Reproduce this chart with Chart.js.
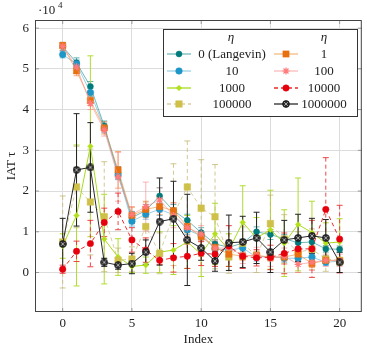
<!DOCTYPE html>
<html><head><meta charset="utf-8">
<script src="https://cdn.jsdelivr.net/npm/chart.js@4/dist/chart.umd.min.js"></script>
<style>html,body{margin:0;padding:0;background:#fff}#wrap{width:367px;height:350px}</style>
</head><body><div id="wrap"><canvas id="c" width="367" height="350"></canvas></div>
<script>
const indexValues = [0,1,2,3,4,5,6,7,8,9,10,11,12,13,14,15,16,17,18,19,20];
const xTicks = [0,5,10,15,20];
const yTicks = [0,1,2,3,4,5,6];
const seriesNames = ['0 (Langevin)','10','1000','100000','1','100','10000','1000000'];

const eta0   = [5.55,5.15,4.57,3.6,2.45,1.35,1.52,1.88,1.52,1.28,0.98,0.7,0.62,0.72,1.0,0.93,0.83,0.73,0.75,0.58,0.57];
const eta10  = [5.35,5.12,4.42,3.55,2.4,1.26,1.43,1.55,1.42,1.05,0.9,0.58,0.55,0.6,0.38,0.4,0.35,0.35,0.38,0.25,0.28];
const eta1000 = [0.65,1.4,3.1,0.82,0.38,0.15,0.18,0.5,0.55,0.75,0.45,0.95,0.55,1.23,0.85,1.05,0.72,1.18,0.98,0.72,0.75];
const eta1e5 = [0.75,2.1,1.73,1.37,0.3,0.33,1.13,0.47,1.42,2.1,1.58,1.37,0.38,0.72,0.4,1.2,0.82,0.5,0.57,0.33,0.3];
const eta1   = [5.57,4.95,4.22,3.55,2.52,1.4,1.55,1.62,1.52,1.13,0.88,0.62,0.45,0.4,0.42,0.38,0.38,0.45,0.22,0.3,0.28];
const eta100 = [5.55,5.05,4.15,3.5,2.35,1.42,1.62,1.78,1.4,1.1,0.95,0.6,0.6,0.42,0.42,0.35,0.4,0.2,0.25,0.3,0.3];
const eta1e4 = [0.08,0.52,0.71,1.23,1.5,0.8,0.55,0.3,0.36,0.4,0.47,0.45,0.65,0.4,0.36,0.37,0.47,0.58,0.58,1.55,0.82];
const eta1e6 = [0.7,2.52,2.58,0.25,0.18,0.22,0.5,1.25,1.32,0.8,0.6,0.28,0.73,0.75,0.85,0.5,0.8,0.85,0.9,0.85,0.25];

const err0   = [0.1,0.12,0.12,0.12,0.15,0.15,0.15,0.2,0.15,0.15,0.12,0.1,0.1,0.1,0.12,0.12,0.1,0.1,0.1,0.08,0.08];
const err10  = [0.08,0.1,0.1,0.12,0.12,0.12,0.12,0.15,0.12,0.12,0.1,0.1,0.1,0.1,0.1,0.1,0.1,0.1,0.1,0.08,0.08];
const err1000 = [0.3,1.73,2.22,1.1,0.45,0.15,0.2,0.5,0.6,0.65,0.55,0.75,0.4,0.9,0.5,0.97,0.82,1.14,0.77,0.5,0.57];
const err1e5 = [1.13,1.0,1.3,1.35,0.3,0.3,0.6,0.5,1.25,1.13,1.19,1.28,0.4,0.4,0.4,0.7,0.6,0.5,0.5,0.3,0.3];
const err1   = [0.08,0.12,0.12,0.15,0.45,0.2,0.2,0.2,0.2,0.15,0.12,0.1,0.1,0.1,0.1,0.1,0.1,0.1,0.1,0.08,0.08];
const err100 = [0.1,0.15,0.15,0.15,0.6,0.2,0.6,0.3,0.3,0.2,0.2,0.2,0.2,0.2,0.2,0.2,0.2,0.2,0.2,0.15,0.15];
const err1e4 = [0.1,0.25,0.57,0.35,0.45,0.3,0.3,0.1,0.35,0.3,0.3,0.3,0.5,0.3,0.2,0.3,0.5,0.3,0.7,1.27,0.83];
const err1e6 = [0.63,1.38,1.1,0.1,0.1,0.25,0.3,1.07,0.92,1.12,0.3,0.25,0.68,0.63,0.63,0.5,0.48,0.58,0.43,0.45,0.25];

const FONT = '"Liberation Serif", "DejaVu Serif", serif';

function otimes(){
  const c=document.createElement('canvas'); c.width=8; c.height=8;
  const g=c.getContext('2d');
  g.beginPath(); g.arc(4,4,3.4,0,Math.PI*2); g.fillStyle='#2e2e2e'; g.fill();
  g.strokeStyle='#111'; g.lineWidth=0.8; g.stroke();
  g.strokeStyle='#c8c8c8'; g.lineWidth=0.8;
  g.beginPath(); g.moveTo(2.2,2.2); g.lineTo(5.8,5.8); g.moveTo(5.8,2.2); g.lineTo(2.2,5.8); g.stroke();
  return c;
}
const oMark = otimes();

function pts(arr){ return arr.map((v,i)=>({x:indexValues[i], y:v})); }

const specs = [
  {name:seriesNames[0], data:eta0,   err:err0,   line:'rgba(0,128,128,0.55)', mark:'#007a7a', style:'circle', r:3, dash:[], errc:'rgba(0,128,128,0.6)'},
  {name:seriesNames[1], data:eta10,  err:err10,  line:'rgba(30,150,200,0.45)', mark:'#1e96c8', style:'circle', r:3.3, dash:[], errc:'rgba(30,150,200,0.55)'},
  {name:seriesNames[2], data:eta1000,err:err1000,line:'#a8dc1c', mark:'#b2e01a', style:'rectRot', r:2.8, dash:[], errc:'#b0dc30'},
  {name:seriesNames[3], data:eta1e5, err:err1e5, line:'rgba(200,185,120,0.7)', mark:'#cfc04a', style:'rect', r:4.6, dash:[4,3], errc:'rgba(195,180,110,0.75)'},
  {name:seriesNames[4], data:eta1,   err:err1,   line:'rgba(240,140,50,0.6)', mark:'#e8700f', style:'rect', r:4.4, dash:[], errc:'rgba(240,120,30,0.6)'},
  {name:seriesNames[5], data:eta100, err:err100, line:'rgba(250,140,140,0.6)', mark:'#ff7a7a', style:'star', r:3.5, dash:[], errc:'rgba(250,120,120,0.55)'},
  {name:seriesNames[6], data:eta1e4, err:err1e4, line:'#ee2a2a', mark:'#e6000e', style:'circle', r:3.2, dash:[4,3], errc:'rgba(235,40,40,0.85)'},
  {name:seriesNames[7], data:eta1e6, err:err1e6, line:'#2a2a2a', mark:'#333', style:oMark, r:4, dash:[], errc:'#222'}
];

const datasets = specs.map((s,i)=>({
  label:s.name, data:pts(s.data), err:s.err, errc:s.errc,
  borderColor:s.line, backgroundColor:s.mark, pointBackgroundColor:s.mark,
  pointBorderColor:s.mark,
  pointBorderWidth: s.style==='star'?1.2:0.5,
  pointStyle:s.style, pointRadius:s.r, borderWidth:1, borderDash:s.dash,
  tension:0, order: 7-i
}));

const errPlugin = {
  id:'errbars',
  beforeDatasetsDraw(chart){
    const ctx=chart.ctx, xs=chart.scales.x, ys=chart.scales.y;
    ctx.save();
    chart.data.datasets.forEach((ds)=>{
      ctx.strokeStyle=ds.errc; ctx.lineWidth=1;
      ds.data.forEach((p,i)=>{
        const e=ds.err[i]; const px=xs.getPixelForValue(p.x);
        const y1=ys.getPixelForValue(p.y+e), y2=ys.getPixelForValue(p.y-e);
        ctx.setLineDash(ds.borderDash||[]);
        ctx.beginPath(); ctx.moveTo(px,y1); ctx.lineTo(px,y2); ctx.stroke();
        ctx.setLineDash([]);
        ctx.beginPath(); ctx.moveTo(px-3,y1); ctx.lineTo(px+3,y1); ctx.moveTo(px-3,y2); ctx.lineTo(px+3,y2); ctx.stroke();
      });
    });
    ctx.restore();
  }
};

const framePlugin = {
  id:'frame',
  afterDatasetsDraw(chart){
    const ctx=chart.ctx, a=chart.chartArea, xs=chart.scales.x, ys=chart.scales.y;
    ctx.save();
    ctx.strokeStyle='#888'; ctx.lineWidth=0.8;
    xTicks.forEach(v=>{const p=xs.getPixelForValue(v); ctx.beginPath(); ctx.moveTo(p,a.bottom); ctx.lineTo(p,a.bottom-4); ctx.moveTo(p,a.top); ctx.lineTo(p,a.top+4); ctx.stroke();});
    yTicks.forEach(v=>{const p=ys.getPixelForValue(v); ctx.beginPath(); ctx.moveTo(a.left,p); ctx.lineTo(a.left+4,p); ctx.moveTo(a.right,p); ctx.lineTo(a.right-4,p); ctx.stroke();});
    ctx.strokeStyle='#444'; ctx.lineWidth=1;
    ctx.strokeRect(a.left+0.5,a.top+0.5,a.right-a.left-1,a.bottom-a.top-1);
    ctx.fillStyle='#222';
    ctx.font='13px '+FONT; ctx.textAlign='center'; ctx.textBaseline='middle';
    ctx.fillText('Index',(a.left+a.right)/2,340);
    ctx.save(); ctx.translate(12,(a.top+a.bottom)/2); ctx.rotate(-Math.PI/2);
    ctx.fillText('IAT τ',0,0); ctx.restore();
    ctx.textAlign='left';
    ctx.fillText('·10',38,11);
    ctx.font='9px '+FONT; ctx.fillText('4',58,6);
    // legend
    const L={x:163,y:29,w:194,h:87};
    ctx.fillStyle='#fff'; ctx.fillRect(L.x,L.y,L.w,L.h);
    ctx.strokeStyle='#333'; ctx.lineWidth=1; ctx.strokeRect(L.x+0.5,L.y+0.5,L.w,L.h);
    ctx.fillStyle='#222'; ctx.font='italic 13px '+FONT; ctx.textAlign='center';
    ctx.fillText('η',231,38); ctx.fillText('η',324,38);
    ctx.font='13px '+FONT;
    const rows=[54,71,88,104];
    const cols=[{l:167,r:191,t:232},{l:274,r:298,t:324}];
    const order=[[0,4],[1,5],[2,6],[3,7]];
    order.forEach((pair,ri)=>{
      pair.forEach((di,ci)=>{
        const ds=chart.data.datasets[di];
        const c=cols[ci], y=rows[ri];
        ctx.strokeStyle=ds.borderColor; ctx.lineWidth=1.3; ctx.setLineDash(ds.borderDash||[]);
        ctx.beginPath(); ctx.moveTo(c.l,y); ctx.lineTo(c.r,y); ctx.stroke(); ctx.setLineDash([]);
        ctx.fillStyle=ds.pointBackgroundColor; ctx.strokeStyle=ds.pointBorderColor; ctx.lineWidth=ds.pointBorderWidth;
        Chart.helpers.drawPoint(ctx,{pointStyle:ds.pointStyle,radius:ds.pointRadius,borderWidth:ds.pointBorderWidth,rotation:0},(c.l+c.r)/2,y);
        ctx.fillStyle='#222'; ctx.fillText(ds.label,c.t,y+1);
      });
    });
    ctx.restore();
  }
};

new Chart(document.getElementById('c'),{
  type:'line',
  data:{datasets},
  options:{
    responsive:false, animation:false,
    layout:{padding:{top:20,right:5,left:0,bottom:0}},
    plugins:{legend:{display:false},tooltip:{enabled:false}},
    scales:{
      x:{type:'linear',min:-2,max:21.6,
        afterBuildTicks(s){s.ticks=xTicks.map(v=>({value:v}));},
        afterFit(s){s.height=38;},
        grid:{color:'#dcdcdc',drawTicks:false,lineWidth:1},border:{display:false},
        ticks:{font:{family:FONT,size:13},color:'#222',padding:4,maxRotation:0}},
      y:{type:'linear',min:-0.97,max:6.2,
        afterBuildTicks(s){s.ticks=yTicks.map(v=>({value:v}));},
        afterFit(s){s.width=35;},
        grid:{color:'#dcdcdc',drawTicks:false,lineWidth:1},border:{display:false},
        ticks:{font:{family:FONT,size:13},color:'#222',padding:6}}
    }
  },
  plugins:[errPlugin,framePlugin]
});
</script></body></html>
